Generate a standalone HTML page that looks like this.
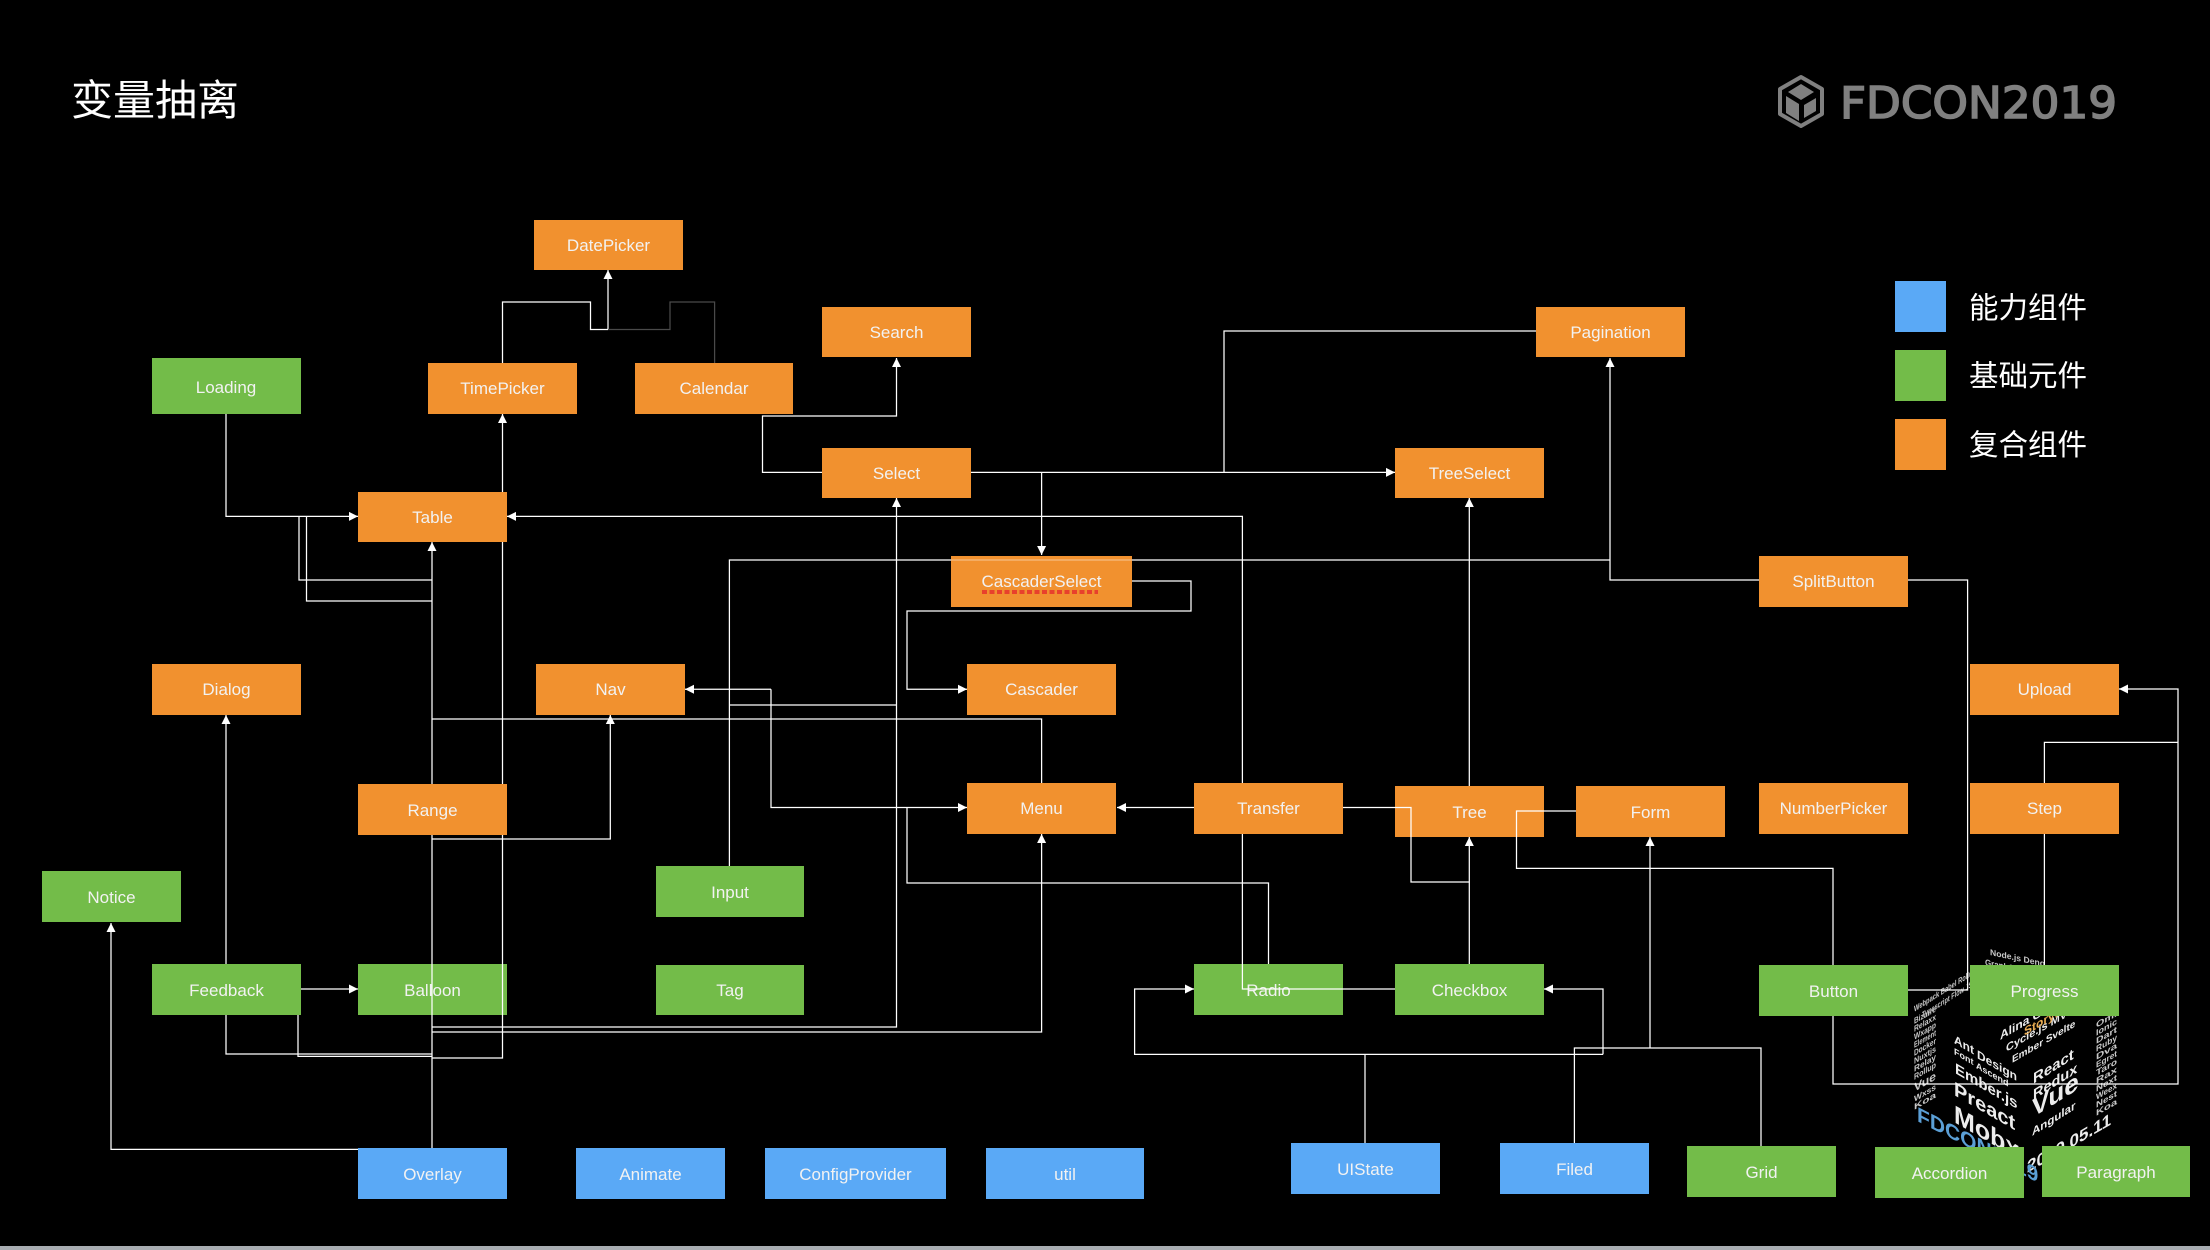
<!DOCTYPE html>
<html lang="zh">
<head>
<meta charset="utf-8">
<title>变量抽离</title>
<style>
html,body{margin:0;padding:0;background:#000;width:2210px;height:1250px;overflow:hidden}
svg{display:block}
.n text,text.l{font-family:"Liberation Sans","Noto Sans CJK SC",sans-serif;font-size:17px;fill:#f2f2f2;text-anchor:middle}
.o{fill:#f1912f}.g{fill:#73bc49}.b{fill:#5aa9f6}
.c path{fill:none;stroke:#fff;stroke-width:1.25}
.w text{font-family:"Liberation Sans",sans-serif;fill:#ececec}
.s text{font-weight:bold;font-size:8.5px;fill:#c8c8c8}
</style>
</head>
<body>
<svg width="2210" height="1250" viewBox="0 0 2210 1250" xmlns="http://www.w3.org/2000/svg">
<defs>
<marker id="a" markerUnits="userSpaceOnUse" markerWidth="10" markerHeight="10" refX="9" refY="5" orient="auto"><path d="M0,0.5 L9,5 L0,9.5 z" fill="#fff"/></marker>
</defs>
<rect width="2210" height="1250" fill="#000"/>
<rect y="1246" width="2210" height="4" fill="#a8adb2"/>

<text x="71" y="115" font-family="'Liberation Sans','Noto Sans CJK SC',sans-serif" font-size="42" fill="#fff">变量抽离</text>

<!-- logo -->
<g fill="none" stroke="#808080" stroke-width="4" stroke-linejoin="round">
<path d="M1801,77 L1822,89 V114 L1801,126 L1780,114 V89 z"/>
</g>
<path d="M1801,84 L1814,92 L1801,100 L1788,92 z M1786,96 L1799,104 V121 L1786,113 z M1804,105 L1816,98 V111 L1804,118 z" fill="#808080"/>
<text x="1840" y="118" font-family="'DejaVu Sans',sans-serif" font-size="44" fill="#808080" stroke="#808080" stroke-width="1.6" textLength="277" lengthAdjust="spacingAndGlyphs">FDCON2019</text>

<!-- cube word art -->
<g class="w">
<g font-size="12" font-weight="bold">
<text transform="translate(1954 1043) skewY(30)">Ant</text>
<text transform="translate(1977 1058) skewY(30)">Design</text>
<text transform="translate(1954 1054) skewY(30)" font-size="9">Font</text>
<text transform="translate(1976 1068) skewY(30)" font-size="9">Ascend</text>
</g>
<g font-weight="bold">
<text transform="translate(1955 1073) skewY(30)" font-size="15">Ember.js</text>
<text transform="translate(1954 1095) skewY(30)" font-size="20">Preact</text>
<text transform="translate(1954 1122) skewY(30)" font-size="25">Mobx</text>
<text transform="translate(2033 1084) skewY(-32)" font-size="15">React</text>
<text transform="translate(2033 1100) skewY(-32)" font-size="14.5">Redux</text>
<text transform="translate(2032 1118) skewY(-32)" font-size="26">Vue</text>
<text transform="translate(2032 1136) skewY(-32)" font-size="11.5">Angular</text>
<text transform="translate(2027 1173) skewY(-30)" font-size="17">2019.05.11</text>
<text transform="translate(1917 1121) skewY(27)" font-size="21" style="fill:#5b9fd6">FDCON2019</text>
</g>
<g class="s">
<text transform="translate(1914 1024) skewY(-30)" textLength="22" lengthAdjust="spacingAndGlyphs">Bizarre</text>
<text transform="translate(1914 1032) skewY(-30)" textLength="22" lengthAdjust="spacingAndGlyphs">Relaxx</text>
<text transform="translate(1914 1040) skewY(-30)" textLength="22" lengthAdjust="spacingAndGlyphs">Wxapp</text>
<text transform="translate(1914 1048) skewY(-30)" textLength="22" lengthAdjust="spacingAndGlyphs">Element</text>
<text transform="translate(1914 1056) skewY(-30)" textLength="22" lengthAdjust="spacingAndGlyphs">Docker</text>
<text transform="translate(1914 1064) skewY(-30)" textLength="22" lengthAdjust="spacingAndGlyphs">Nuxtjs</text>
<text transform="translate(1914 1072) skewY(-30)" textLength="22" lengthAdjust="spacingAndGlyphs">Relay</text>
<text transform="translate(1914 1080) skewY(-30)" textLength="22" lengthAdjust="spacingAndGlyphs">Rollup</text>
<text transform="translate(1914 1092) skewY(-30)" textLength="22" lengthAdjust="spacingAndGlyphs" style="font-size:12px">Vue</text>
<text transform="translate(1914 1102) skewY(-30)" textLength="22" lengthAdjust="spacingAndGlyphs">Wxss</text>
<text transform="translate(1914 1110) skewY(-30)" textLength="22" lengthAdjust="spacingAndGlyphs">Koa</text>
<text transform="translate(2096 1028) skewY(-30)" textLength="21" lengthAdjust="spacingAndGlyphs">Omi</text>
<text transform="translate(2096 1036) skewY(-30)" textLength="21" lengthAdjust="spacingAndGlyphs">Ionic</text>
<text transform="translate(2096 1044) skewY(-30)" textLength="21" lengthAdjust="spacingAndGlyphs">Dart</text>
<text transform="translate(2096 1052) skewY(-30)" textLength="21" lengthAdjust="spacingAndGlyphs">Ruby</text>
<text transform="translate(2096 1060) skewY(-30)" textLength="21" lengthAdjust="spacingAndGlyphs">Dva</text>
<text transform="translate(2096 1068) skewY(-30)" textLength="21" lengthAdjust="spacingAndGlyphs">Egret</text>
<text transform="translate(2096 1076) skewY(-30)" textLength="21" lengthAdjust="spacingAndGlyphs">Taro</text>
<text transform="translate(2096 1084) skewY(-30)" textLength="21" lengthAdjust="spacingAndGlyphs">Rax</text>
<text transform="translate(2096 1092) skewY(-30)" textLength="21" lengthAdjust="spacingAndGlyphs">Next</text>
<text transform="translate(2096 1100) skewY(-30)" textLength="21" lengthAdjust="spacingAndGlyphs">Weex</text>
<text transform="translate(2096 1108) skewY(-30)" textLength="21" lengthAdjust="spacingAndGlyphs">Nest</text>
<text transform="translate(2096 1116) skewY(-30)" textLength="21" lengthAdjust="spacingAndGlyphs">Koa</text>
<text transform="translate(1914 1012) skewY(-32)" textLength="62" lengthAdjust="spacingAndGlyphs">Webpack Babel Rollup</text>
<text transform="translate(1922 1018) skewY(-32)" textLength="54" lengthAdjust="spacingAndGlyphs">Typescript Flow JSX</text>
<text transform="translate(1990 955) skewY(12)" textLength="55" lengthAdjust="spacingAndGlyphs">Node.js Deno</text>
<text transform="translate(1985 965) skewY(12)" textLength="55" lengthAdjust="spacingAndGlyphs">GraphQL Sass</text>
</g>
<text transform="translate(2006 1052) skewY(-30)" font-size="11" font-weight="bold">Cycle.js MVVM</text>
<text transform="translate(2012 1063) skewY(-30)" font-size="10" font-weight="bold">Ember Svelte</text>
<text transform="translate(2000 1040) skewY(-30)" font-size="12" font-weight="bold">Alina Gatsby</text>
<text transform="translate(2024 1036) skewY(-30)" font-size="12" font-weight="bold" style="fill:#e9ac52">Storybook</text>
</g>

<!-- nodes -->
<g class="n">
<rect class="o" x="534" y="220" width="149" height="50"/><text x="608.5" y="251">DatePicker</text>
<rect class="o" x="822" y="307" width="149" height="50"/><text x="896.5" y="338">Search</text>
<rect class="g" x="152" y="358" width="149" height="56"/><text x="226" y="393">Loading</text>
<rect class="o" x="428" y="363" width="149" height="51"/><text x="502.5" y="394">TimePicker</text>
<rect class="o" x="635" y="363" width="158" height="51"/><text x="714" y="394">Calendar</text>
<rect class="o" x="822" y="448" width="149" height="50"/><text x="896.5" y="479">Select</text>
<rect class="o" x="1395" y="448" width="149" height="50"/><text x="1469.5" y="479">TreeSelect</text>
<rect class="o" x="1536" y="307" width="149" height="50"/><text x="1610.5" y="338">Pagination</text>
<rect class="o" x="358" y="492" width="149" height="50"/><text x="432.5" y="523">Table</text>
<rect class="o" x="951" y="556" width="181" height="51"/><text x="1041.5" y="587">CascaderSelect</text>
<rect class="o" x="1759" y="556" width="149" height="51"/><text x="1833.5" y="587">SplitButton</text>
<rect class="o" x="152" y="664" width="149" height="51"/><text x="226.5" y="695">Dialog</text>
<rect class="o" x="536" y="664" width="149" height="51"/><text x="610.5" y="695">Nav</text>
<rect class="o" x="967" y="664" width="149" height="51"/><text x="1041.5" y="695">Cascader</text>
<rect class="o" x="1970" y="664" width="149" height="51"/><text x="2044.5" y="695">Upload</text>
<rect class="o" x="358" y="784" width="149" height="51"/><text x="432.5" y="816">Range</text>
<rect class="o" x="967" y="783" width="149" height="51"/><text x="1041.5" y="814">Menu</text>
<rect class="o" x="1194" y="783" width="149" height="51"/><text x="1268.5" y="814">Transfer</text>
<rect class="o" x="1395" y="786" width="149" height="51"/><text x="1469.5" y="818">Tree</text>
<rect class="o" x="1576" y="786" width="149" height="51"/><text x="1650.5" y="818">Form</text>
<rect class="o" x="1759" y="783" width="149" height="51"/><text x="1833.5" y="814">NumberPicker</text>
<rect class="o" x="1970" y="783" width="149" height="51"/><text x="2044.5" y="814">Step</text>
<rect class="g" x="42" y="871" width="139" height="51"/><text x="111.5" y="903">Notice</text>
<rect class="g" x="656" y="866" width="148" height="51"/><text x="730" y="898">Input</text>
<rect class="g" x="152" y="964" width="149" height="51"/><text x="226.5" y="996">Feedback</text>
<rect class="g" x="358" y="964" width="149" height="51"/><text x="432.5" y="996">Balloon</text>
<rect class="g" x="656" y="965" width="148" height="50"/><text x="730" y="996">Tag</text>
<rect class="g" x="1194" y="964" width="149" height="51"/><text x="1268.5" y="996">Radio</text>
<rect class="g" x="1395" y="964" width="149" height="51"/><text x="1469.5" y="996">Checkbox</text>
<rect class="g" x="1759" y="965" width="149" height="51"/><text x="1833.5" y="997">Button</text>
<rect class="g" x="1970" y="965" width="149" height="51"/><text x="2044.5" y="997">Progress</text>
<rect class="b" x="358" y="1148" width="149" height="51"/><text x="432.5" y="1180">Overlay</text>
<rect class="b" x="576" y="1148" width="149" height="51"/><text x="650.5" y="1180">Animate</text>
<rect class="b" x="765" y="1148" width="181" height="51"/><text x="855.5" y="1180">ConfigProvider</text>
<rect class="b" x="986" y="1148" width="158" height="51"/><text x="1065" y="1180">util</text>
<rect class="b" x="1291" y="1143" width="149" height="51"/><text x="1365.5" y="1175">UIState</text>
<rect class="b" x="1500" y="1143" width="149" height="51"/><text x="1574.5" y="1175">Filed</text>
<rect class="g" x="1687" y="1146" width="149" height="51"/><text x="1761.5" y="1178">Grid</text>
<rect class="g" x="1875" y="1147" width="149" height="51"/><text x="1949.5" y="1179">Accordion</text>
<rect class="g" x="2042" y="1146" width="148" height="51"/><text x="2116" y="1178">Paragraph</text>
</g>
<path d="M982,592 H1098" stroke="#e8412c" stroke-width="4" stroke-dasharray="5 2.5" fill="none"/>

<!-- legend -->
<rect class="b" x="1895" y="281" width="51" height="51"/>
<rect class="g" x="1895" y="350" width="51" height="51"/>
<rect class="o" x="1895" y="419" width="51" height="51"/>
<g font-family="'Liberation Sans','Noto Sans CJK SC',sans-serif" font-size="29.5" fill="#fff">
<text x="1969" y="318">能力组件</text>
<text x="1969" y="386">基础元件</text>
<text x="1969" y="455">复合组件</text>
</g>

<!-- connectors -->
<g class="c">
<path d="M608,329.5 V270" marker-end="url(#a)"/>
<path d="M502.5,363 V302 H590.5 V329.5 H608"/>
<path d="M714.6,363 V302 H670 V329.5 H608" style="stroke:#4a4a4a"/>
<path d="M822,472.4 H762.5 V416 H896.5 V358" marker-end="url(#a)"/>
<path d="M226,414 V516.4 H358" marker-end="url(#a)"/>
<path d="M502.5,492 V414" marker-end="url(#a)"/>
<path d="M971,472.4 H1395" marker-end="url(#a)"/>
<path d="M1041.6,472.4 V555" marker-end="url(#a)"/>
<path d="M1536,331 H1224 V472.4"/>
<path d="M1242.4,783 V516.4 H507" marker-end="url(#a)"/>
<path d="M1242.4,834 V989 H1395"/>
<path d="M299,516.4 V580 H432"/>
<path d="M306.5,516.4 V601 H432"/>
<path d="M432,784 V542" marker-end="url(#a)"/>
<path d="M432,835 V1148"/>
<path d="M729.4,866 V560 H951"/>
<path d="M951,560 H1132" style="opacity:.4"/>
<path d="M1132,560 H1610"/>
<path d="M1759,580 H1610 V358" marker-end="url(#a)"/>
<path d="M1908,990 H1967.6 V580 H1908"/>
<path d="M1132,581 H1191 V611 H907 V689.3 H967" marker-end="url(#a)"/>
<path d="M771,689.3 H685" marker-end="url(#a)"/>
<path d="M771,689.3 V807.5 H967" marker-end="url(#a)"/>
<path d="M729.4,705 H896.5"/>
<path d="M432,1027 H896.5 V498" marker-end="url(#a)"/>
<path d="M432,719 H1041.6 V783"/>
<path d="M432,839 H610.3 V715" marker-end="url(#a)"/>
<path d="M226,964 V715" marker-end="url(#a)"/>
<path d="M301,989 H358" marker-end="url(#a)"/>
<path d="M226,1015 V1054 H432"/>
<path d="M298,1015 V1056.4 H432"/>
<path d="M432,1058 H502.5 V835"/>
<path d="M502.5,784 V542"/>
<path d="M432,1032 H1041.6 V834" marker-end="url(#a)"/>
<path d="M907,807.5 V883 H1268.5 V964"/>
<path d="M358,1149.4 H111 V923" marker-end="url(#a)"/>
<path d="M1194,807.5 H1117" marker-end="url(#a)"/>
<path d="M1343,807.5 H1411 V882 H1469.3"/>
<path d="M1469.3,964 V837" marker-end="url(#a)"/>
<path d="M1469.3,786 V498" marker-end="url(#a)"/>
<path d="M1576,811 H1516.5 V868.4 H1833 V965"/>
<path d="M1574.4,1143 V1048 H1761 V1146"/>
<path d="M1650,1048 V837" marker-end="url(#a)"/>
<path d="M1365,1143 V1054.4"/>
<path d="M1603,1054.4 H1134.6 V989 H1194" marker-end="url(#a)"/>
<path d="M1603,1054.4 V989 H1544" marker-end="url(#a)"/>
<path d="M1833,1016 V1084 H2178 V689 H2119" marker-end="url(#a)"/>
<path d="M2044.4,965 V834"/>
<path d="M2044.4,783 V742.4 H2178"/>
</g>
</svg>
</body>
</html>
